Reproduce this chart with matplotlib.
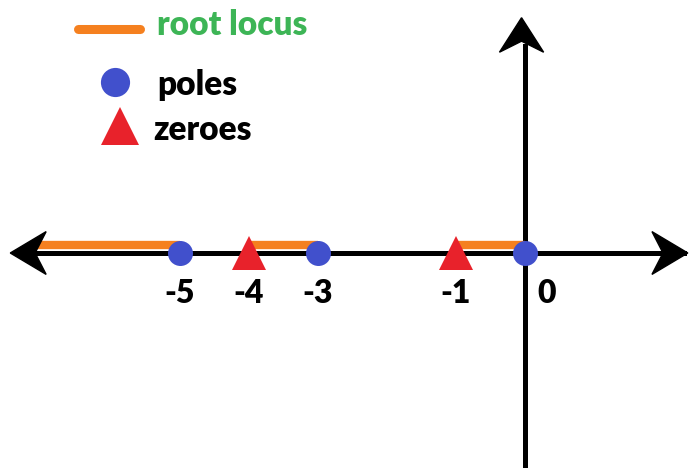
import matplotlib
matplotlib.use("Agg")
import matplotlib.pyplot as plt
from matplotlib.patches import Polygon
from matplotlib.lines import Line2D

plt.rcParams['font.family'] = ['Lato', 'DejaVu Sans']

# pole / zero locations on the real axis
poles = [-5, -3, 0]
zeros = [-4, -1]
# root locus segments on the real axis (left one runs off to -inf)
locus = [(-7.1, -5), (-4, -3), (-1, 0)]
tick_vals = [-5, -4, -3, -1, 0]
tick_labels = ["-5", "-4", "-3", "-1", "0"]

ORANGE = "#F5801F"
BLUE = "#4150CC"
RED = "#E8222B"
GREEN = "#3DB556"

W, H = 698, 475
scale = 69.0      # pixels per unit
x0_px, y0_px = 525, 253

fig = plt.figure(figsize=(W / 100, H / 100), dpi=100)
ax = fig.add_axes([0, 0, 1, 1])
ax.set_xlim(-x0_px / scale, (W - x0_px) / scale)
ax.set_ylim(-(H - y0_px) / scale, y0_px / scale)
ax.axis('off')


def arrowhead(tip, d, length=0.52, half=0.31, notch=0.16):
    # concave arrowhead pointing along unit vector d
    tx, ty = tip
    dx, dy = d
    nx, ny = -dy, dx
    bx, by = tx - dx * length, ty - dy * length
    pts = [(tx, ty),
           (bx + nx * half, by + ny * half),
           (tx - dx * (length - notch), ty - dy * (length - notch)),
           (bx - nx * half, by - ny * half)]
    ax.add_patch(Polygon(pts, closed=True, color='black', zorder=4))


# real axis
ax.plot([-7.3, 2.3], [0, 0], color='black', lw=3.6, zorder=2)
arrowhead((-7.46, 0), (-1, 0))
arrowhead((2.36, 0), (1, 0))
# imaginary axis
ax.plot([0, 0], [-3.07, 3.0], color='black', lw=3.6, zorder=2)
arrowhead((-0.05, 3.41), (0, 1), length=0.5, half=0.32)

# root locus
for a, b in locus:
    ax.plot([a, b], [0.12, 0.12], color=ORANGE, lw=6, solid_capstyle='butt', zorder=3)

ax.plot(poles, [0] * len(poles), 'o', color=BLUE, ms=18, mew=0, zorder=5)
ax.plot(zeros, [0] * len(zeros), '^', color=RED, ms=25, mew=0, zorder=5)

for v, lab in zip(tick_vals, tick_labels):
    off = 0.32 if v == 0 else 0.0
    ax.text(v + off, -0.72, lab, ha='center', va='baseline',
            fontsize=23, fontweight='heavy', color='black')

# legend drawn by hand
ax.add_line(Line2D([0.112, 0.2], [0.939, 0.939], transform=ax.transAxes,
                   color=ORANGE, lw=6.5, solid_capstyle='round'))
ax.text(0.225, 0.926, "root locus", transform=ax.transAxes, color=GREEN,
        fontsize=24, fontweight='heavy', va='baseline')
ax.plot([0.165], [0.827], 'o', color=BLUE, ms=21, mew=0, transform=ax.transAxes)
ax.text(0.226, 0.8, "poles", transform=ax.transAxes, color='black',
        fontsize=24, fontweight='heavy', va='baseline')
ax.plot([0.172], [0.735], '^', color=RED, ms=27, mew=0, transform=ax.transAxes)
ax.text(0.219, 0.705, "zeroes", transform=ax.transAxes, color='black',
        fontsize=24, fontweight='heavy', va='baseline')

fig.savefig("out.png", dpi=100)
